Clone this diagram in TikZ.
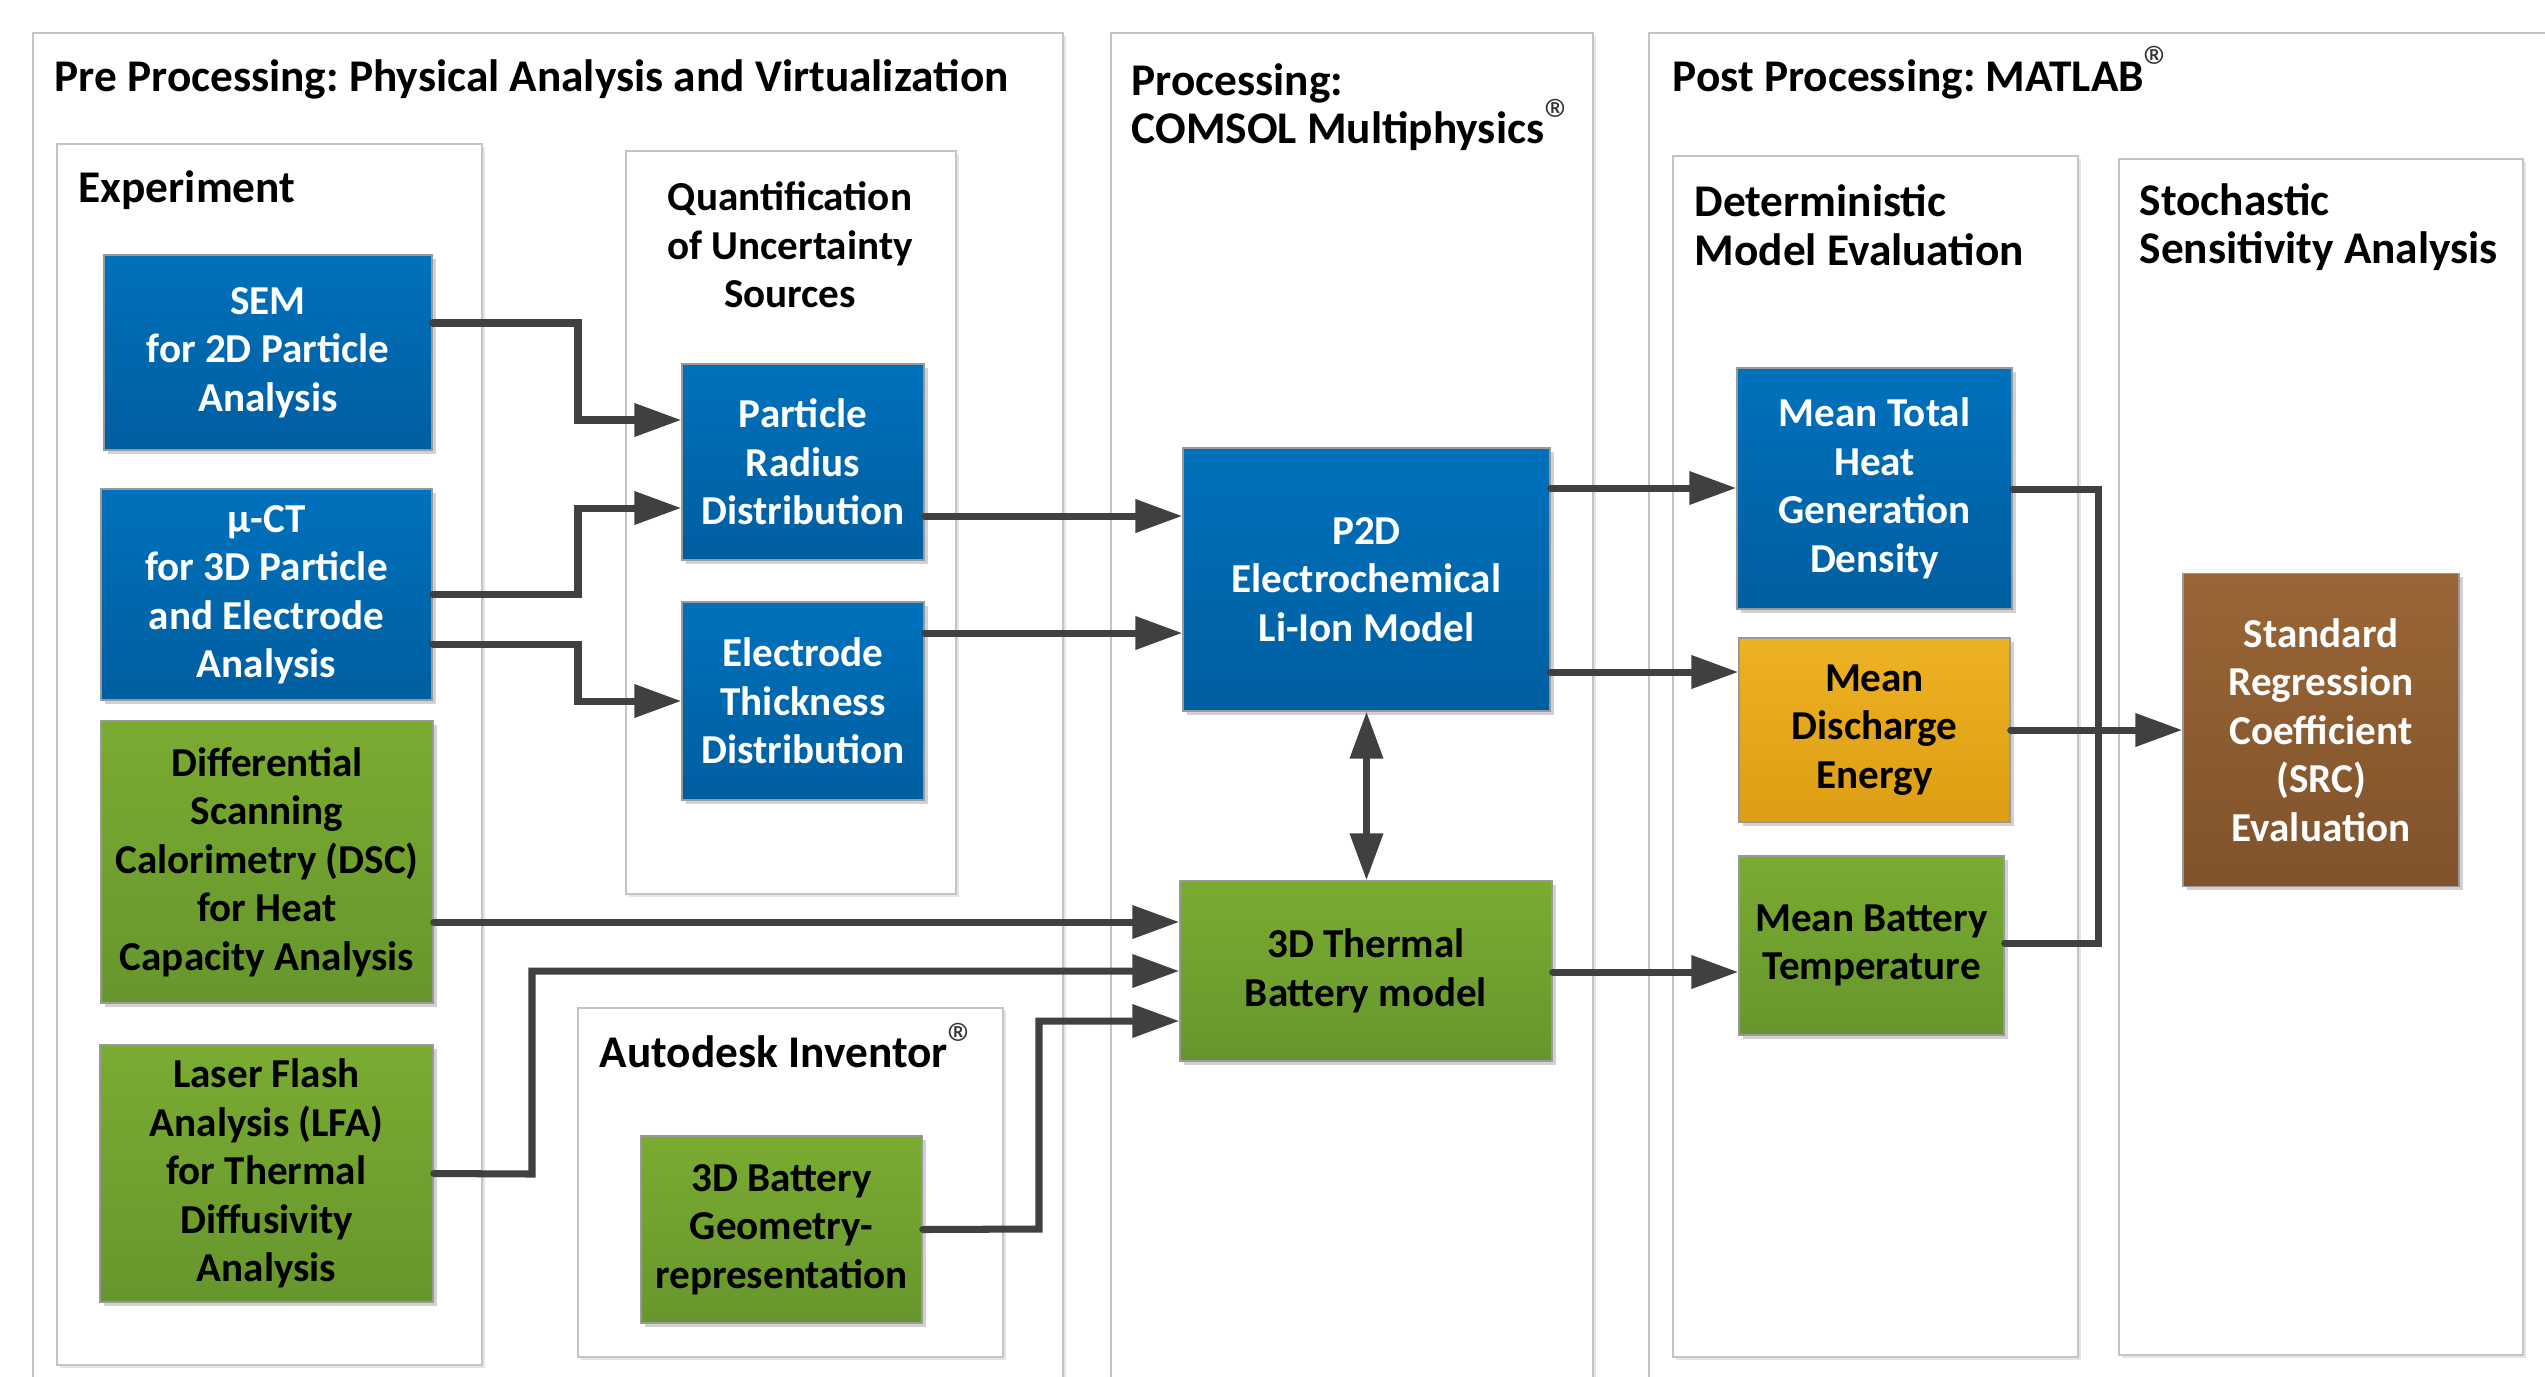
\documentclass[tikz,border=0pt]{standalone}
\usepackage{fontspec}
\setmainfont{Carlito}
\usepackage{tikz}
\usetikzlibrary{arrows.meta,shadows}
\frenchspacing

\definecolor{bluetop}{HTML}{0071BC}
\definecolor{bluebot}{HTML}{005EA0}
\definecolor{greentop}{HTML}{7AAB31}
\definecolor{greenbot}{HTML}{67962D}
\definecolor{orangetop}{HTML}{EDB223}
\definecolor{orangebot}{HTML}{DD9D14}
\definecolor{browntop}{HTML}{996636}
\definecolor{brownbot}{HTML}{80532C}
\definecolor{linegray}{HTML}{404040}
\definecolor{framegray}{HTML}{C4C4C4}

\newcommand{\regmark}{\smash{\raisebox{0.15ex}{\fontsize{17}{17}\selectfont\mdseries\color{black!80}\textregistered}}}

\tikzset{
  txt/.style={font=\fontsize{11.7}{13.8}\selectfont\bfseries, inner sep=0pt},
  head/.style={font=\fontsize{12.9}{13.8}\selectfont\bfseries, inner sep=0pt},
  frame/.style={draw=framegray, line width=0.6pt, fill=white,
    drop shadow={shadow xshift=0.8pt, shadow yshift=-0.8pt, fill=black, opacity=0.10}},
  blk/.style={txt, draw=black!40, line width=0.4pt, align=center,
    drop shadow={shadow xshift=1pt, shadow yshift=-1pt, fill=black, opacity=0.18}},
  bluebox/.style={blk, top color=bluetop, bottom color=bluebot, text=white},
  greenbox/.style={blk, top color=greentop, bottom color=greenbot, text=black},
  orangebox/.style={blk, top color=orangetop, bottom color=orangebot, text=black},
  brownbox/.style={blk, top color=browntop, bottom color=brownbot, text=white},
  conn/.style={draw=linegray, line width=2pt, line cap=round},
  arr/.style={conn, -{Triangle[length=4.7mm,width=3.2mm]}},
  dblarr/.style={conn, {Triangle[length=4.7mm,width=3.2mm]}-{Triangle[length=4.7mm,width=3.2mm]}},
}

\begin{document}
\begin{tikzpicture}
\fill[white] (0,0) rectangle (25.45,-13.76);
\clip (0,0) rectangle (25.45,-13.76);

% stages
\draw[frame] (0.33,-0.33) rectangle (10.63,-14.3);
\draw[frame] (11.11,-0.33) rectangle (15.93,-14.3);
\draw[frame] (16.49,-0.33) rectangle (26.0,-14.3);

\draw[frame] (0.57,-1.44) rectangle (4.82,-13.65);
\draw[frame] (6.26,-1.51) rectangle (9.56,-8.94);
\draw[frame] (5.78,-10.08) rectangle (10.03,-13.57);
\draw[frame] (16.73,-1.56) rectangle (20.78,-13.57);
\draw[frame] (21.19,-1.59) rectangle (25.23,-13.55);

\node[head, anchor=west] (pretitle) at (0.54,-0.79) {Pre Processing: Physical Analysis and Virtualization};
\node[head, anchor=west] (exptitle) at (0.78,-1.90) {Experiment};
\node[txt, align=center] (quanttitle) at (7.90,-2.45) {Quantification\\of Uncertainty\\Sources};
\node[head, anchor=west] (adtitle) at (5.99,-10.52) {Autodesk Inventor\regmark};
\node[head, anchor=west, align=left] (proctitle) at (11.31,-1.07) {Processing:\\COMSOL Multiphysics\regmark};
\node[head, anchor=west] (posttitle) at (16.72,-0.79) {Post Processing: MATLAB\regmark};
\node[head, anchor=west, align=left] (dettitle) at (16.94,-2.25) {Deterministic\\Model Evaluation};
\node[head, anchor=west, align=left] (stotitle) at (21.39,-2.27) {Stochastic\\Sensitivity Analysis};

% blocks
\node[bluebox, minimum width=3.28cm, minimum height=1.95cm] (sem) at (2.68,-3.525) {SEM\\for 2D Particle\\Analysis};
\node[bluebox, minimum width=3.31cm, minimum height=2.11cm] (mct) at (2.665,-5.945) {µ-CT\\for 3D Particle\\and Electrode\\Analysis};
\node[greenbox, minimum width=3.32cm, minimum height=2.82cm] (dsc) at (2.67,-8.62) {Differential\\Scanning\\Calorimetry (DSC)\\for Heat\\Capacity Analysis};
\node[greenbox, minimum width=3.33cm, minimum height=2.57cm] (lfa) at (2.665,-11.735) {Laser Flash\\Analysis (LFA)\\for Thermal\\Diffusivity\\Analysis};
\node[bluebox, minimum width=2.42cm, minimum height=1.96cm] (part) at (8.03,-4.62) {Particle\\Radius\\Distribution};
\node[bluebox, minimum width=2.42cm, minimum height=1.98cm] (elec) at (8.03,-7.01) {Electrode\\Thickness\\Distribution};
\node[greenbox, minimum width=2.81cm, minimum height=1.87cm] (geom) at (7.815,-12.295) {3D Battery\\Geometry-\\representation};
\node[bluebox, minimum width=3.67cm, minimum height=2.63cm] (p2d) at (13.665,-5.795) {P2D\\Electrochemical\\Li-Ion Model};
\node[greenbox, minimum width=3.72cm, minimum height=1.80cm] (therm) at (13.66,-9.71) {3D Thermal\\Battery model};
\node[bluebox, minimum width=2.75cm, minimum height=2.41cm] (mth) at (18.745,-4.885) {Mean Total\\Heat\\Generation\\Density};
\node[orangebox, minimum width=2.71cm, minimum height=1.84cm] (mde) at (18.745,-7.30) {Mean\\Discharge\\Energy};
\node[greenbox, minimum width=2.65cm, minimum height=1.79cm] (mbt) at (18.715,-9.455) {Mean Battery\\Temperature};
\node[brownbox, minimum width=2.76cm, minimum height=3.13cm] (src) at (23.21,-7.30) {Standard\\Regression\\Coefficient\\(SRC)\\Evaluation};

\coordinate (merge) at (20.98,-7.30);

% connections
\draw[arr] (sem.east |- 0,-3.23) -- (5.78,-3.23) |- (part.west |- 0,-4.20);
\draw[arr] (mct.east |- 0,-5.94) -- (5.78,-5.94) |- (part.west |- 0,-5.08);
\draw[arr] (mct.east |- 0,-6.44) -- (5.78,-6.44) |- (elec.west |- 0,-7.01);
\draw[arr] (part.east |- 0,-5.16) -- (p2d.west |- 0,-5.16);
\draw[arr] (elec.east |- 0,-6.33) -- (p2d.west |- 0,-6.33);
\draw[dblarr] (p2d.south) -- (therm.north -| p2d.south);
\draw[arr] (dsc.east |- 0,-9.22) -- (therm.west |- 0,-9.22);
\draw[arr] (lfa.east) -- (5.32,-11.74) |- (therm.west |- 0,-9.71);
\draw[arr] (geom.east) -- (10.39,-12.29) |- (therm.west |- 0,-10.21);
\draw[arr] (p2d.east |- 0,-4.88) -- (mth.west |- 0,-4.88);
\draw[arr] (p2d.east |- 0,-6.72) -- (mde.west |- 0,-6.72);
\draw[arr] (therm.east |- 0,-9.72) -- (mbt.west |- 0,-9.72);
\draw[conn] (mth.east |- 0,-4.89) -| (merge);
\draw[conn] (mbt.east |- 0,-9.43) -| (merge);
\draw[arr] (mde.east) -- (src.west);
\end{tikzpicture}
\end{document}
